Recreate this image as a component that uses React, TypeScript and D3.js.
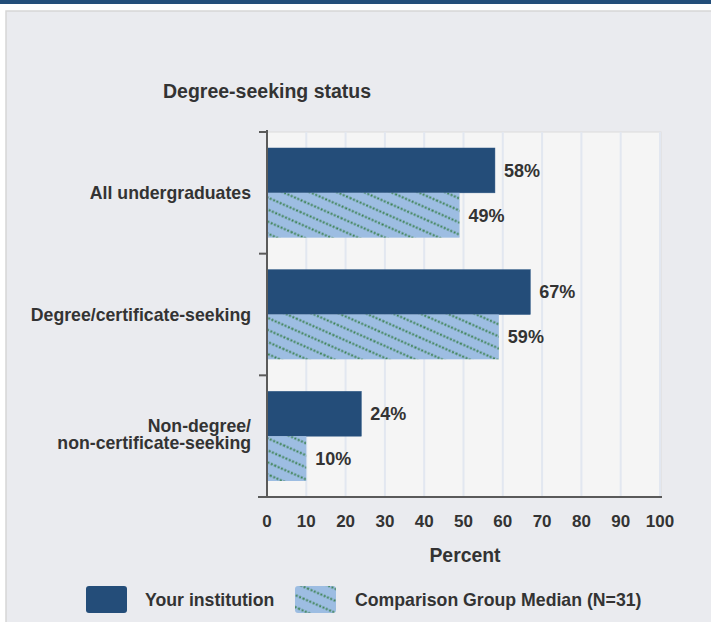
import React from "react";
import * as d3 from "d3";

const categories = ["All undergraduates", "Degree/certificate-seeking", "Non-degree/\nnon-certificate-seeking"];
const seriesNames = ["Your institution", "Comparison Group Median (N=31)"];
const yourInstitution = [58, 67, 24];
const comparisonMedian = [49, 59, 10];
const xTicks = [0, 10, 20, 30, 40, 50, 60, 70, 80, 90, 100];
const chartTitle = "Degree-seeking status";
const xAxisTitle = "Percent";

const W = 711;
const H = 622;
const DARK = "#244d79";
const HATCH_BG = "#9dbde2";
const HATCH_DOT = "#3b8150";
const TEXT = "#333333";
const FONT = "'Liberation Sans', Arial, sans-serif";
const FS = 17.7;

export default function App() {
  const x = d3.scaleLinear().domain([0, 100]).range([267, 660]);
  const y = d3.scaleBand<string>().domain(categories).range([132, 497]).paddingInner(0).paddingOuter(0);
  const bw = y.bandwidth();
  const inner = d3.scaleBand<string>().domain(seriesNames).range([16, bw - 16]).padding(0);
  const values = [yourInstitution, comparisonMedian];
  const fills = [DARK, "url(#hatch)"];

  return (
    <svg width={W} height={H} style={{ position: "absolute", left: 0, top: 0, display: "block" }}>
      <defs>
        <pattern id="hatch" patternUnits="userSpaceOnUse" width="40" height="11" patternTransform="rotate(24)">
          <rect width="40" height="11" fill={HATCH_BG} />
          <line x1="0" y1="5.5" x2="40" y2="5.5" stroke={HATCH_DOT} strokeWidth="2.2" strokeDasharray="2 1.6" />
        </pattern>
      </defs>
      <rect x={0} y={0} width={W} height={H} fill="#ffffff" />
      <rect x={0} y={0} width={W} height={4} fill="#234e7a" />
      <rect x={6} y={11} width={W} height={H} fill="#eaebef" stroke="#d6d6d6" strokeWidth={1.5} />
      <text x={163} y={98} fontFamily={FONT} fontWeight="bold" fontSize={19.5} fill={TEXT}>{chartTitle}</text>

      {/* plot background */}
      <rect x={x(0)} y={132} width={x(100) - x(0) + 1} height={497 - 132} fill="#f5f5f5" stroke="#dcdcdc" strokeWidth={1} />
      {xTicks.slice(1).map((t) => (
        <line key={t} x1={x(t)} x2={x(t)} y1={132} y2={497} stroke="#e2e7f0" strokeWidth={2} />
      ))}

      {categories.map((c, ci) =>
        seriesNames.map((s, si) => {
          const v = values[si][ci];
          const y0 = (y(c) as number) + (inner(s) as number);
          const h = inner.bandwidth();
          return (
            <g key={c + s}>
              <rect x={x(0)} y={y0} width={x(v) - x(0)} height={h} fill={fills[si]} stroke={si === 0 ? "#2a5683" : "none"} strokeWidth={0.5} />
              <text x={x(v) + 9} y={y0 + h / 2} dy="0.35em" fontFamily={FONT} fontWeight="bold" fontSize={18} fill={TEXT}>{v}%</text>
            </g>
          );
        })
      )}

      {/* axes */}
      <line x1={x(0)} x2={x(0)} y1={130} y2={498} stroke="#5a5a5a" strokeWidth={2} />
      {[0, 1, 2, 3].map((i) => {
        const yy = i < 3 ? (y(categories[i]) as number) : 497;
        return <line key={i} x1={259} x2={x(0)} y1={yy} y2={yy} stroke="#5a5a5a" strokeWidth={2} />;
      })}
      <line x1={258} x2={662} y1={497} y2={497} stroke="#5a5a5a" strokeWidth={2} />

      {categories.map((c) => {
        const lines = c.split("\n");
        const lh = 16.5;
        const cy = (y(c) as number) + bw / 2 - (lines.length > 1 ? 2 : 0);
        return lines.map((l, i) => (
          <text key={c + i} x={251} y={cy - ((lines.length - 1) * lh) / 2 + i * lh} dy="0.35em" textAnchor="end" fontFamily={FONT} fontWeight="bold" fontSize={FS} fill={TEXT}>{l}</text>
        ));
      })}

      {xTicks.map((t) => (
        <text key={t} x={x(t)} y={521} dy="0.35em" textAnchor="middle" fontFamily={FONT} fontWeight="bold" fontSize={17} fill={TEXT}>{t}</text>
      ))}
      <text x={465} y={555} dy="0.35em" textAnchor="middle" fontFamily={FONT} fontWeight="bold" fontSize={19.4} fill={TEXT}>{xAxisTitle}</text>

      {/* legend */}
      <rect x={86} y={586} width={41} height={27} rx={3} fill={DARK} />
      <text x={145} y={599.5} dy="0.35em" fontFamily={FONT} fontWeight="bold" fontSize={FS} fill={TEXT}>{seriesNames[0]}</text>
      <rect x={295} y={586} width={41} height={27} rx={3} fill="url(#hatch)" />
      <text x={355} y={599.5} dy="0.35em" fontFamily={FONT} fontWeight="bold" fontSize={FS} fill={TEXT}>{seriesNames[1]}</text>
    </svg>
  );
}
